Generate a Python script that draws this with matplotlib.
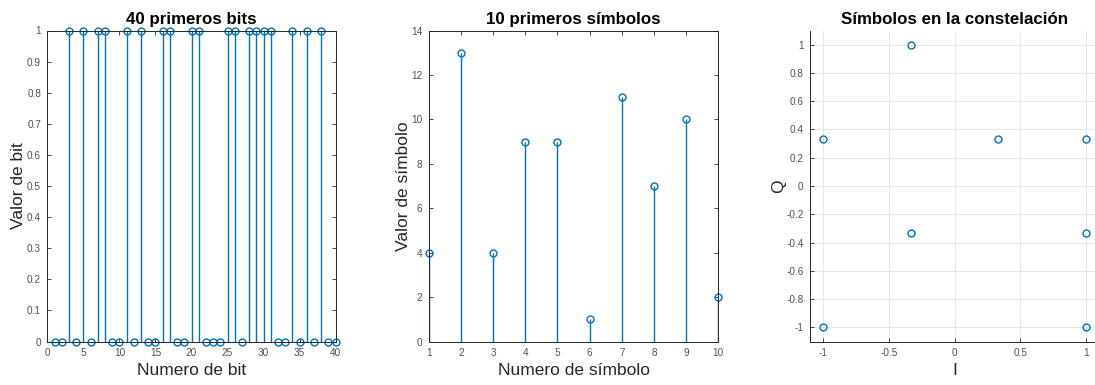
import numpy as np
import matplotlib
matplotlib.use("Agg")
import matplotlib.pyplot as plt

plt.rcParams['font.family'] = ['Liberation Sans', 'DejaVu Sans']

# datos
bits = [0, 0, 1, 0, 1, 0, 1, 1, 0, 0, 1, 0, 1, 0, 0, 1, 1, 0, 0, 1,
        1, 0, 0, 0, 1, 1, 0, 1, 1, 1, 1, 0, 0, 1, 0, 1, 0, 1, 0, 0]
simbolos = [4, 13, 4, 9, 9, 1, 11, 7, 10, 2]
const_I = [-1, -1, -1/3, -1/3, 1/3, 1, 1, 1]
const_Q = [1/3, -1, 1, -1/3, 1/3, 1/3, -1/3, -1]

azul = '#0072BD'
gris = '#262626'
gris_tick = '#505050'
W, H = 1095, 385

fig = plt.figure(figsize=(W / 100, H / 100), dpi=100)


def ejes(x0, x1, y0=30.5, y1=341.5):
    return fig.add_axes([x0 / W, (H - y1) / H, (x1 - x0) / W, (y1 - y0) / H])


def estilo(ax, box=True):
    ax.tick_params(direction='in', length=3, width=0.6, labelsize=7.2,
                   color=gris, labelcolor=gris_tick, top=box, right=box, pad=4.5)
    for s in ax.spines.values():
        s.set_color(gris)
        s.set_linewidth(0.7)
    if not box:
        ax.spines['top'].set_visible(False)
        ax.spines['right'].set_visible(False)


def tallo(ax, x, y):
    ml, sl, bl = ax.stem(x, y, basefmt=' ')
    plt.setp(sl, color=azul, linewidth=1.0)
    plt.setp(ml, color=azul, markerfacecolor='none', markersize=5,
             markeredgewidth=1.0, clip_on=False)


# 40 primeros bits
ax1 = ejes(47.3, 335.7)
tallo(ax1, np.arange(1, len(bits) + 1), bits)
ax1.set_xlim(0, 40)
ax1.set_ylim(0, 1)
ax1.set_xticks(np.arange(0, 41, 5))
ax1.set_yticks(np.arange(0, 1.01, 0.1))
ax1.set_yticklabels(['0', '0.1', '0.2', '0.3', '0.4', '0.5', '0.6', '0.7', '0.8', '0.9', '1'])
ax1.set_title('40 primeros bits', fontsize=12.2, fontweight='bold', pad=5)
ax1.set_xlabel('Numero de bit', fontsize=12.5, color=gris, labelpad=4)
ax1.set_ylabel('Valor de bit', fontsize=12.5, color=gris, labelpad=0.5)
estilo(ax1)

# 10 primeros simbolos
ax2 = ejes(428.7, 718.3)
tallo(ax2, np.arange(1, len(simbolos) + 1), simbolos)
ax2.set_xlim(1, 10)
ax2.set_ylim(0, 14)
ax2.set_xticks(np.arange(1, 11))
ax2.set_yticks(np.arange(0, 15, 2))
ax2.set_title('10 primeros símbolos', fontsize=12.2, fontweight='bold', pad=5)
ax2.set_xlabel('Numero de símbolo', fontsize=12.5, color=gris, labelpad=4)
ax2.set_ylabel('Valor de símbolo', fontsize=12.5, color=gris, labelpad=0.5)
estilo(ax2)

# constelacion
ax3 = ejes(810, 810 + 2.2 * 131.5)
ax3.plot(const_I, const_Q, 'o', color=azul, markerfacecolor='none',
         markersize=5, markeredgewidth=1.0)
ax3.set_xlim(-1.1, 1.1)
ax3.set_ylim(-1.1, 1.1)
ax3.set_xticks([-1, -0.5, 0, 0.5, 1])
ax3.set_xticklabels(['-1', '-0.5', '0', '0.5', '1'])
ax3.set_yticks(np.arange(-1, 1.01, 0.2))
ax3.set_yticklabels(['-1', '-0.8', '-0.6', '-0.4', '-0.2', '0', '0.2', '0.4', '0.6', '0.8', '1'])
ax3.grid(True, color='#e3e3e3', linewidth=0.6)
ax3.set_axisbelow(True)
ax3.set_title('Símbolos en la constelación', fontsize=12.2, fontweight='bold', pad=5)
ax3.set_xlabel('I', fontsize=12.5, color=gris, labelpad=4)
ax3.set_ylabel('Q', fontsize=12.5, color=gris, labelpad=0.5)
estilo(ax3, box=False)

fig.savefig('out.png', dpi=100)
